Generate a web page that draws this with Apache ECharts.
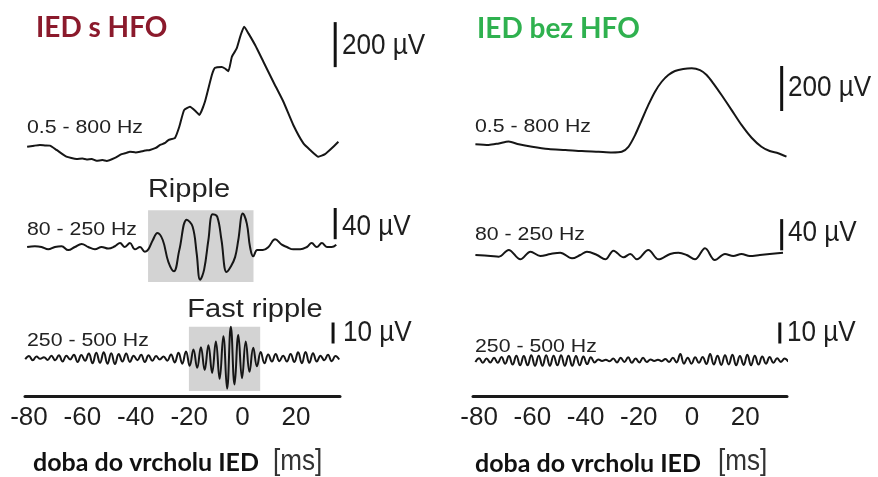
<!DOCTYPE html>
<html>
<head>
<meta charset="utf-8">
<script src="https://cdn.jsdelivr.net/npm/echarts@6/dist/echarts.min.js"></script>
<style>
html,body{margin:0;padding:0;background:#fff;}
#chart{width:878px;height:477px;}
</style>
</head>
<body>
<div id="chart"></div>
<script>
// ---- DATA (time in ms relative to IED peak, amplitude in µV) ----
const tickValues = [-80, -60, -40, -20, 0, 20];
const tickLabels = ['-80', '-60', '-40', '-20', '0', '20'];

// IED s HFO, 0.5-800 Hz  [t, µV]
const leftBroad = [[-80.7,1],[-78,6],[-75.9,9],[-74,7],[-72.2,6],[-69.7,-13],[-66,-43],[-62.2,-53],[-60,-51],[-58.4,-55],[-56.5,-53],[-54.7,-61],[-52.5,-58],[-50.9,-62],[-47.8,-48],[-45.3,-32],[-43.5,-26],[-42.2,-21],[-40,-24],[-38.4,-21],[-36.5,-16],[-34.7,-13],[-32.5,-4],[-30.9,9],[-29,18],[-27.8,31],[-25.3,41],[-23.7,90],[-21.9,164],[-19.7,179],[-17.4,157],[-16.2,142],[-14.1,201],[-11.5,320],[-10.3,352],[-7.8,356],[-6.6,349],[-5.3,337],[-4,401],[-2.2,438],[-0.7,498],[0.6,535],[2.2,505],[4.7,453],[7.8,379],[11.5,290],[15.3,201],[19,98],[22.8,16],[25.3,-13],[28.4,-43],[30.9,-32],[33.4,-6],[35.9,23]];

// IED s HFO, 80-250 Hz  [t, µV]
const leftRipple = [[-80.7,0],[-77.8,1],[-75.3,0],[-72.8,-3],[-70.3,0],[-67.8,1],[-65.3,-4],[-62.8,0],[-60.3,4],[-57.8,0],[-55.3,-3],[-52.8,0],[-50.3,-2],[-47.8,1],[-45.9,5],[-44.1,0],[-42.2,5],[-40.3,-3],[-38.4,0],[-36.6,-6],[-35.3,-3],[-33.6,9],[-31.9,18],[-29.9,9],[-27.8,-19],[-25.7,-31],[-23.7,-4],[-20.9,35],[-18.7,26],[-17.2,-8],[-15.9,-42],[-14.4,-29],[-12.8,9],[-11.2,42],[-9.5,39],[-7.9,9],[-6,-32],[-4.4,-25],[-2.8,-13],[-1.6,9],[0.1,43],[1.6,30],[2.8,0],[4,-12],[5.5,-4],[7.6,-4],[9.7,0],[12.2,10],[14.7,3],[16.6,0],[19,-3],[21.6,-3],[24.1,0],[25.9,5],[27.8,0],[29.7,5],[31.6,0],[33.4,0],[35.1,3]];

// IED s HFO, 250-500 Hz: samples every fastStepMs from fastStartMs (µV)
const fastStartMs = -81.4;
const fastStepMs = 1.4;
const leftFast = [-0.5,1.0,-1.0,0.8,-0.3,0.5,-0.8,1.2,-1.0,1.4,-1.6,1.2,-0.6,1.6,-1.8,1.5,-1.2,2.2,-2.4,2.6,-2.2,2.8,-2.6,2.4,-2.8,2.0,-1.6,2.2,-1.8,1.2,-1.0,1.6,-1.8,1.4,-1.2,1.0,-0.6,0.8,-1.2,1.8,-2.0,2.6,-2.6,3.2,-3.6,4.2,-4.6,5.2,-5.6,6.2,-7.0,8.0,-9.8,10.5,-14.5,15.0,-12.5,11.0,-9.5,8.0,-6.5,5.0,-3.8,3.0,-2.4,1.8,-1.6,2.0,-1.4,1.2,-1.6,2.0,-1.8,2.8,-2.4,3.0,-2.2,2.4,-1.6,1.2,-1.0,1.6,-1.4,1.0,-0.6];

// IED bez HFO, 0.5-800 Hz  [t, µV]
const rightBroad = [[-81.4,12],[-76.4,9],[-72.6,16],[-68.9,24],[-65.1,12],[-60.1,1],[-53.9,-9],[-47.6,-13],[-41.4,-18],[-35.1,-21],[-30.1,-24],[-26.4,-21],[-23.9,1],[-21.4,53],[-18.9,120],[-16.4,187],[-13.9,246],[-11.4,290],[-8.9,320],[-6.4,338],[-3.3,347],[-0.1,350],[3,342],[5.5,320],[8,283],[11.1,231],[14.9,164],[18.6,98],[22.4,41],[26.1,1],[29.2,-18],[32.4,-28],[35.5,-43]];

// IED bez HFO, 80-250 Hz  [t, µV]
const rightRipple = [[-81.4,0],[-75.7,-1.3],[-72.6,-2.2],[-68.9,6.5],[-64.5,-5.6],[-60.7,4.3],[-57,-1.3],[-53.2,1.3],[-49.5,3],[-45.1,-4.3],[-42,0],[-39.5,4.3],[-35.7,0],[-32.6,-5.6],[-29.5,5.6],[-25.7,-3],[-23.2,1.3],[-20.7,-5.6],[-16.4,6.5],[-12.6,-5.6],[-8.2,1.3],[-5.1,3],[-2,0],[1.1,-5.6],[4.9,8.6],[8.6,-6.5],[12.4,1.3],[15.5,-1.3],[18.6,1.3],[21.7,-1.3],[25.5,0],[29.2,1.3],[34.2,3]];

// IED bez HFO, 250-500 Hz (µV), same sampling as leftFast
const rightFast = [-0.8,1.0,-1.2,0.9,-1.0,1.2,-1.2,1.6,-1.6,2.0,-2.0,2.2,-2.4,2.0,-2.4,2.4,-2.6,2.2,-2.6,2.4,-2.6,2.2,-2.4,2.4,-2.6,2.2,-2.6,2.0,-2.4,1.8,-1.8,1.4,-1.0,0.4,-0.3,0.3,-0.5,0.8,-1.0,1.2,-0.8,1.4,-1.2,0.8,-1.0,1.2,-0.8,0.4,-0.3,0.3,-0.4,0.6,-0.8,1.2,-1.0,3.0,-1.6,1.2,-1.6,1.4,-1.2,1.6,-1.8,3.0,-2.0,2.2,-2.2,2.4,-2.0,2.6,-2.4,2.0,-2.2,2.6,-2.4,2.2,-2.0,1.8,-1.6,1.6,-1.2,1.0,-0.8,0.8,-0.6];

// highlighted windows [tStart, tEnd, vLow, vHigh]
const rippleWindow = [-35.4, 4.1, -45, 47];
const fastRippleWindow = [-20.1, 6.6, -15.6, 15];

// scale bars [t, vFrom, vTo]
const barLeftBroad = [34.7, 355, 555];
const barLeftRipple = [34.7, 10, 50];
const barLeftFast = [33.9, 7, 17];
const barRightBroad = [33.7, 160, 360];
const barRightRipple = [33.7, 6, 46];
const barRightFast = [33.0, 8, 18];

// ---- helpers ----
function sampled(vals) { return vals.map((v, i) => [fastStartMs + i * fastStepMs, v]); }
const TRACE = '#161616';
const SANS = '"Liberation Sans", Arial, sans-serif';
const BOLD = 'Lato, "Noto Sans", sans-serif';

const L = { left: 25, width: 315, min: -81.5, max: 36.5 };
const R = { left: 473, width: 314, min: -82.3, max: 35.7 };
const rows = [
  { top: 12, height: 157.5, ymin: -100, ymax: 600 },
  { top: 200.2, height: 93.6, ymin: -60, ymax: 60 },
  { top: 320.4, height: 75.6, ymin: -18, ymax: 18 }
];
const rowsR = [
  { top: 12, height: 157.5, ymin: -100, ymax: 600 },
  { top: 208.2, height: 93.6, ymin: -60, ymax: 60 },
  { top: 320.4, height: 75.6, ymin: -17, ymax: 19 }
];

const grid = [], xAxis = [], yAxis = [];
[[L, rows], [R, rowsR]].forEach(([P, rr]) => {
  rr.forEach((r, k) => {
    const gi = grid.length;
    grid.push({ left: P.left, width: P.width, top: r.top, height: r.height });
    const isBottom = k === 2;
    xAxis.push({
      gridIndex: gi, type: 'value', min: P.min, max: P.max,
      show: true,
      axisLine: { show: isBottom, onZero: false, lineStyle: { color: '#1a1a1a', width: 3 } },
      axisTick: { show: false },
      splitLine: { show: false },
      axisLabel: isBottom ? {
        show: true, customValues: tickValues,
        formatter: v => tickLabels[tickValues.indexOf(v)] !== undefined ? tickLabels[tickValues.indexOf(v)] : String(v),
        fontFamily: SANS, fontSize: 26, color: '#1e1e1e', margin: 9
      } : { show: false }
    });
    yAxis.push({ gridIndex: gi, type: 'value', min: r.ymin, max: r.ymax, show: false, splitLine: { show: false } });
  });
});

function trace(gi, data, smooth) {
  return { type: 'line', xAxisIndex: gi, yAxisIndex: gi, data: data, symbol: 'none', smooth: smooth,
    lineStyle: { color: TRACE, width: 2 }, z: 3, silent: true, animation: false };
}
function bar(gi, b, win) {
  const s = { type: 'line', xAxisIndex: gi, yAxisIndex: gi, data: [[b[0], b[1]], [b[0], b[2]]], symbol: 'none',
    lineStyle: { color: '#111', width: 3 }, z: 1, clip: false, silent: true, animation: false };
  if (win) {
    s.markArea = { silent: true, itemStyle: { color: '#d3d3d3' },
      data: [[{ coord: [win[0], win[2]] }, { coord: [win[1], win[3]] }]] };
  }
  return s;
}

const series = [
  trace(0, leftBroad, 0.15), bar(0, barLeftBroad),
  trace(1, leftRipple, 0.4), bar(1, barLeftRipple, rippleWindow),
  trace(2, sampled(leftFast), 0.45), bar(2, barLeftFast, fastRippleWindow),
  trace(3, rightBroad, 0.25), bar(3, barRightBroad),
  trace(4, rightRipple, 0.35), bar(4, barRightRipple),
  trace(5, sampled(rightFast), 0.45), bar(5, barRightFast)
];

function txt(text, x, y, font, fill, align, sx) {
  return { type: 'text', x: x, y: y, scaleX: sx || 1, silent: true,
    style: { text: text, font: font, fill: fill, align: align || 'left', verticalAlign: 'middle',
      textAlign: align || 'left', textVerticalAlign: 'middle' } };
}
const NS = 0.87;   // narrow look for scale / unit text
const WS = 1.12;   // wide look for band labels
const graphic = [
  txt('IED s HFO', 36, 28, 'bold 28px ' + BOLD, '#8b1a2c'),
  txt('IED bez HFO', 477, 29, 'bold 28px ' + BOLD, '#2fb14f'),
  txt('0.5 - 800 Hz', 27, 128, '19px ' + SANS, '#222', 'left', WS),
  txt('80 - 250 Hz', 27, 230, '19px ' + SANS, '#222', 'left', WS),
  txt('250 - 500 Hz', 27, 341, '19px ' + SANS, '#222', 'left', WS),
  txt('0.5 - 800 Hz', 475, 127, '19px ' + SANS, '#222', 'left', WS),
  txt('80 - 250 Hz', 475, 235, '19px ' + SANS, '#222', 'left', WS),
  txt('250 - 500 Hz', 475, 347, '19px ' + SANS, '#222', 'left', WS),
  txt('Ripple', 189, 190, '25px ' + SANS, '#222', 'center', 1.16),
  txt('Fast ripple', 255, 310, '25px ' + SANS, '#222', 'center', 1.16),
  txt('200 µV', 342, 46, '30px ' + SANS, '#1e1e1e', 'left', NS),
  txt('40 µV', 342, 227, '30px ' + SANS, '#1e1e1e', 'left', NS),
  txt('10 µV', 343, 333, '30px ' + SANS, '#1e1e1e', 'left', NS),
  txt('200 µV', 788, 88, '30px ' + SANS, '#1e1e1e', 'left', NS),
  txt('40 µV', 788, 233, '30px ' + SANS, '#1e1e1e', 'left', NS),
  txt('10 µV', 787, 333, '30px ' + SANS, '#1e1e1e', 'left', NS),
  txt('doba do vrcholu IED', 33, 463, 'bold 25px ' + BOLD, '#111'),
  txt('[ms]', 273, 462, '30px ' + SANS, '#333', 'left', NS),
  txt('doba do vrcholu IED', 475, 464, 'bold 25px ' + BOLD, '#111'),
  txt('[ms]', 718, 462, '30px ' + SANS, '#333', 'left', NS)
];

const chart = echarts.init(document.getElementById('chart'), null, { renderer: 'canvas' });
chart.setOption({ animation: false, backgroundColor: '#fff', grid, xAxis, yAxis, series, graphic });
</script>
</body>
</html>
